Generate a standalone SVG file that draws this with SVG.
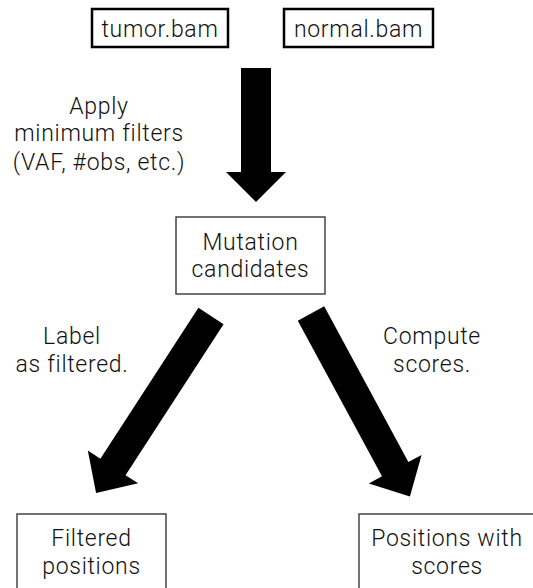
<svg xmlns="http://www.w3.org/2000/svg" width="533" height="588" viewBox="0 0 533 588">
<style>
text{font-family:Roboto,"Liberation Sans",sans-serif;font-size:23px;font-weight:300;letter-spacing:0.7px;fill:#111;text-anchor:middle}
.b1{fill:#fff;stroke:#000;stroke-width:2.5}
.b2{fill:#fff;stroke:#444;stroke-width:1.5}
.arr{fill:#000}
</style>
<rect width="533" height="588" fill="#fff"/>
<g id="tumor"><rect class="b1" x="92" y="9" width="136" height="38"/><text x="160" y="37">tumor.bam</text></g>
<g id="normal"><rect class="b1" x="284" y="9" width="149" height="38"/><text x="358.5" y="37">normal.bam</text></g>
<g id="mutation"><rect class="b2" x="176" y="217" width="149" height="77"/><text x="250.5" y="250">Mutation</text><text x="250.5" y="277">candidates</text></g>
<g id="filtered"><rect class="b2" x="17" y="514" width="149" height="90"/><text x="91.5" y="546">Filtered</text><text x="91.5" y="574">positions</text></g>
<g id="scores"><rect class="b2" x="359" y="514" width="190" height="90"/><text x="447" y="546">Positions with</text><text x="447" y="574">scores</text></g>
<g id="connectors">
<polygon class="arr" points="-15,0 15,0 15,104 30,104 0,134 -30,104 -15,104" transform="translate(256,68)"/>
<polygon class="arr" points="-15,0 15,0 15,180 30,180 0,211 -30,180 -15,180" transform="translate(211,316) rotate(33)"/>
<polygon class="arr" points="-15,0 15,0 15,177 30,177 0,208 -30,177 -15,177" transform="translate(311,313.5) rotate(-28.4)"/>
<text x="99" y="114">Apply</text><text x="99" y="141">minimum filters</text><text x="99" y="170">(VAF, #obs, etc.)</text>
<text x="72" y="344">Label</text><text x="72" y="372">as filtered.</text>
<text x="432" y="344">Compute</text><text x="432" y="372">scores.</text>
</g>
</svg>
